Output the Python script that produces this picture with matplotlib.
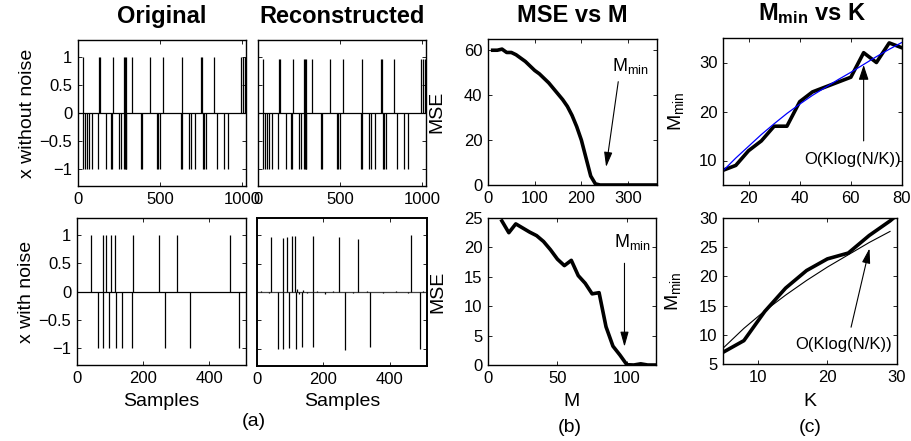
import numpy as np
import matplotlib
matplotlib.use('Agg')
import matplotlib.pyplot as plt

plt.rcParams['font.family'] = ['Liberation Sans', 'DejaVu Sans']
plt.rcParams['mathtext.fontset'] = 'custom'
plt.rcParams['mathtext.rm'] = 'Liberation Sans'
plt.rcParams['mathtext.bf'] = 'Liberation Sans:bold'
plt.rcParams['mathtext.it'] = 'Liberation Sans'

# --- data: (a) sparse signals ---
N_clean = 1024
pos_clean_up = [29, 129, 133, 211, 278, 284, 290, 327, 441, 519, 634, 752, 758, 830,
                995, 1005, 1016]
pos_clean_dn = [33, 43, 53, 67, 86, 119, 168, 202, 209, 252, 260, 278, 284, 290, 294,
                384, 390, 482, 488, 497, 626, 632, 679, 687, 715, 760, 768, 778, 850,
                891, 916]

N_noisy = 512
orig_noisy_pos = [42, 78, 89, 104, 115, 169, 247, 304, 464,
                  63, 78, 97, 118, 135, 167, 268, 342, 490]
orig_noisy_val = [1, 1, 1, 1, 1, 1, 1, 1, 1,
                  -1, -1, -1, -1, -1, -1, -1, -1, -1]
rec_noisy_pos = [42, 78, 89, 104, 115, 169, 248, 304, 464,
                 63, 78, 97, 118, 136, 168, 266, 341, 490,
                 12, 35, 121, 125, 140, 152, 182, 205, 230, 290, 330, 380, 420, 455, 500]
rec_noisy_val = [0.97, 0.95, 0.97, 0.99, 0.98, 0.98, 0.97, 0.93, 1.0,
                 -1.0, -1.0, -0.99, -1.0, -0.96, -0.97, -1.02, -0.97, -1.0,
                 0.02, -0.02, 0.05, -0.03, 0.03, -0.02, 0.02, -0.03, 0.02, -0.02,
                 0.02, -0.02, 0.02, -0.02, 0.02]

# --- data: (b) MSE vs M ---
M_clean = [10, 20, 30, 40, 50, 60, 70, 80, 90, 100, 110, 120, 130, 140, 150, 160, 170,
           180, 190, 200, 210, 220, 230, 240, 250, 260, 270, 280, 290, 300, 310, 320,
           330, 340, 350, 360]
mse_clean = [60, 60, 60.5, 59, 59, 58, 56.5, 55, 53, 51, 49.5, 47.5, 45.5, 43, 40.5, 38,
             35, 31, 26, 20, 12, 4, 0.5, 0, 0, 0, 0, 0, 0, 0, 0, 0, 0, 0, 0, 0]

M_noisy = [10, 15, 20, 25, 30, 35, 40, 45, 50, 55, 60, 65, 70, 75, 80, 85, 90, 95, 100,
           105, 110, 115, 120]
mse_noisy = [24.5, 22.5, 24, 23.3, 22.6, 22, 21, 19.6, 18, 16.9, 17.8, 15.2, 13.9, 12.1,
             12.3, 6.5, 3.2, 1.7, 0.05, 0, 0.2, 0, 0]

# --- data: (c) Mmin vs K ---
K_clean = [10, 15, 20, 25, 30, 35, 40, 45, 50, 55, 60, 65, 70, 75, 80]
mmin_clean = [8, 9, 12, 14, 17, 17, 22, 24, 25, 26, 27, 32, 30, 34, 33]
fit_clean = [7.9, 10.5, 12.9, 15.3, 17.5, 19.6, 21.5, 23.3, 24.9, 26.5, 28.0, 29.6,
             31.2, 32.7, 34.1]

K_noisy = [5, 8, 11, 14, 17, 20, 23, 26, 29, 31]
mmin_noisy = [7, 9, 14, 18, 21, 23, 24, 27, 29.5, 31.5]
fit_noisy = [7.7, 11.1, 14.1, 16.8, 19.3, 21.6, 23.7, 25.8, 27.7, 28.9]

W, H = 912, 441
fig = plt.figure(figsize=(W / 100, H / 100), dpi=100)


def px_axes(l, t, r, b):
    return fig.add_axes([l / W, 1 - b / H, (r - l) / W, (b - t) / H])


def style(ax):
    ax.tick_params(direction='in', top=True, right=True, length=3, width=0.6,
                   labelsize=12, pad=4)
    for s in ax.spines.values():
        s.set_linewidth(1.0)


def spikes(ax, pos, val, n, base_color='k'):
    ax.plot([0, n], [0, 0], color=base_color, lw=0.9)
    ax.vlines(pos, 0, val, color='k', lw=0.9)
    ax.set_xlim(0, n)
    ax.set_ylim(-1.3, 1.3)
    ax.set_yticks([-1, -0.5, 0, 0.5, 1])


ytl = ['\u22121', '\u22120.5', '0', '0.5', '1']

# (a) top-left original
ax1 = px_axes(78, 40, 246, 186)
spikes(ax1, pos_clean_up + pos_clean_dn,
       [1] * len(pos_clean_up) + [-1] * len(pos_clean_dn), N_clean)
ax1.set_yticklabels(ytl)
ax1.set_xticks([0, 500, 1000])
style(ax1)
ax1.set_title('Original', fontsize=17, fontweight='bold', pad=12)
ax1.set_ylabel('x without noise', fontsize=14, va='center')
ax1.yaxis.set_label_coords(-0.30, 0.5)

# (a) top-right reconstructed (exact recovery)
ax2 = px_axes(258, 40, 426, 186)
spikes(ax2, pos_clean_up + pos_clean_dn,
       [0.97] * len(pos_clean_up) + [-0.99] * len(pos_clean_dn), N_clean)
ax2.set_yticklabels([])
ax2.set_xticks([0, 500, 1000])
style(ax2)
ax2.set_title('Reconstructed', fontsize=17, fontweight='bold', pad=12)

# (a) bottom-left original noisy
ax3 = px_axes(77, 218, 246, 365)
spikes(ax3, orig_noisy_pos, orig_noisy_val, N_noisy)
ax3.set_yticklabels(ytl)
ax3.set_xticks([0, 200, 400])
style(ax3)
ax3.set_ylabel('x with noise', fontsize=14, va='center')
ax3.yaxis.set_label_coords(-0.30, 0.5)
ax3.set_xlabel('Samples', fontsize=14, va='center')
ax3.xaxis.set_label_coords(0.5, -(402 - 365) / 147)

# (a) bottom-right reconstructed noisy
ax4 = px_axes(257, 218, 427, 366)
spikes(ax4, rec_noisy_pos, rec_noisy_val, N_noisy, base_color='#444444')
ax4.set_yticklabels([])
ax4.set_xticks([0, 200, 400])
style(ax4)
for s in ax4.spines.values():
    s.set_linewidth(1.4)
ax4.set_xlabel('Samples', fontsize=14, va='center')
ax4.xaxis.set_label_coords(0.5, -(402 - 366) / 148)

arrow = dict(arrowstyle='-|>,head_length=0.9,head_width=0.25', color='k', lw=0.8,
             shrinkA=0, shrinkB=0)

# (b) top
ax5 = px_axes(488, 39, 657, 185)
ax5.plot(M_clean, mse_clean, color='k', lw=2.6)
ax5.set_xlim(0, 362)
ax5.set_ylim(0, 65)
ax5.set_xticks([0, 100, 200, 300])
ax5.set_yticks([0, 20, 40, 60])
style(ax5)
ax5.set_title('MSE vs M', fontsize=17, fontweight='bold', pad=12)
ax5.set_ylabel('MSE', fontsize=14, va='center')
ax5.yaxis.set_label_coords(-0.30, 0.5)
ax5.annotate('', xy=(253, 8), xytext=(279, 46), arrowprops=arrow)
ax5.text(305, 53, r'M$_{\rm min}$', fontsize=13, ha='center', va='center')

# (b) bottom
ax6 = px_axes(488, 218, 656, 365)
ax6.plot(M_noisy, mse_noisy, color='k', lw=2.6)
ax6.set_xlim(0, 121)
ax6.set_ylim(0, 25)
ax6.set_xticks([0, 50, 100])
ax6.set_yticks([0, 5, 10, 15, 20, 25])
style(ax6)
ax6.set_ylabel('MSE', fontsize=14, va='center')
ax6.yaxis.set_label_coords(-0.30, 0.5)
ax6.set_xlabel('M', fontsize=14, va='center')
ax6.xaxis.set_label_coords(0.5, -(402 - 365) / 147)
ax6.annotate('', xy=(98.3, 3.1), xytext=(98.3, 17.3), arrowprops=arrow)
ax6.text(104, 21, r'M$_{\rm min}$', fontsize=13, ha='center', va='center')

# (c) top
ax7 = px_axes(723, 38, 902, 185)
ax7.plot(K_clean, mmin_clean, color='k', lw=2.6)
ax7.plot(K_clean, fit_clean, color='#0000ff', lw=0.9)
ax7.set_xlim(10, 80)
ax7.set_ylim(5, 35)
ax7.set_xticks([20, 40, 60, 80])
ax7.set_yticks([10, 20, 30])
style(ax7)
ax7.set_title(r'M$_{\mathbf{min}}$ vs K', fontsize=17, fontweight='bold', pad=13)
ax7.set_ylabel(r'M$_{\rm min}$', fontsize=14, va='center')
ax7.yaxis.set_label_coords(-0.26, 0.5)
ax7.annotate('', xy=(65, 29.5), xytext=(65, 14),
             arrowprops=dict(arrowstyle='-|>,head_length=0.9,head_width=0.3',
                             color='k', lw=0.8, shrinkA=0, shrinkB=0))
ax7.text(60.5, 10.3, 'O(Klog(N/K))', fontsize=12, ha='center', va='center')

# (c) bottom
ax8 = px_axes(723, 218, 897, 364)
ax8.plot(K_noisy, mmin_noisy, color='k', lw=2.6)
ax8.plot(K_noisy[:-1], fit_noisy[:-1], color='k', lw=0.8)
ax8.set_xlim(5, 30)
ax8.set_ylim(5, 30)
ax8.set_xticks([10, 20, 30])
ax8.set_yticks([5, 10, 15, 20, 25, 30])
style(ax8)
ax8.set_ylabel(r'M$_{\rm min}$', fontsize=14, va='center')
ax8.yaxis.set_label_coords(-0.29, 0.5)
ax8.set_xlabel('K', fontsize=14, va='center')
ax8.xaxis.set_label_coords(0.5, -(402 - 364) / 146)
ax8.annotate('', xy=(26.05, 24.8), xytext=(23.4, 11.3), arrowprops=arrow)
ax8.text(22.3, 8.4, 'O(Klog(N/K))', fontsize=12, ha='center', va='center')

for lab, x, y in [('(a)', 254, 422), ('(b)', 570, 427), ('(c)', 810, 427)]:
    fig.text(x / W, 1 - y / H, lab, fontsize=14, ha='center', va='center')

fig.savefig('out.png', dpi=100)
